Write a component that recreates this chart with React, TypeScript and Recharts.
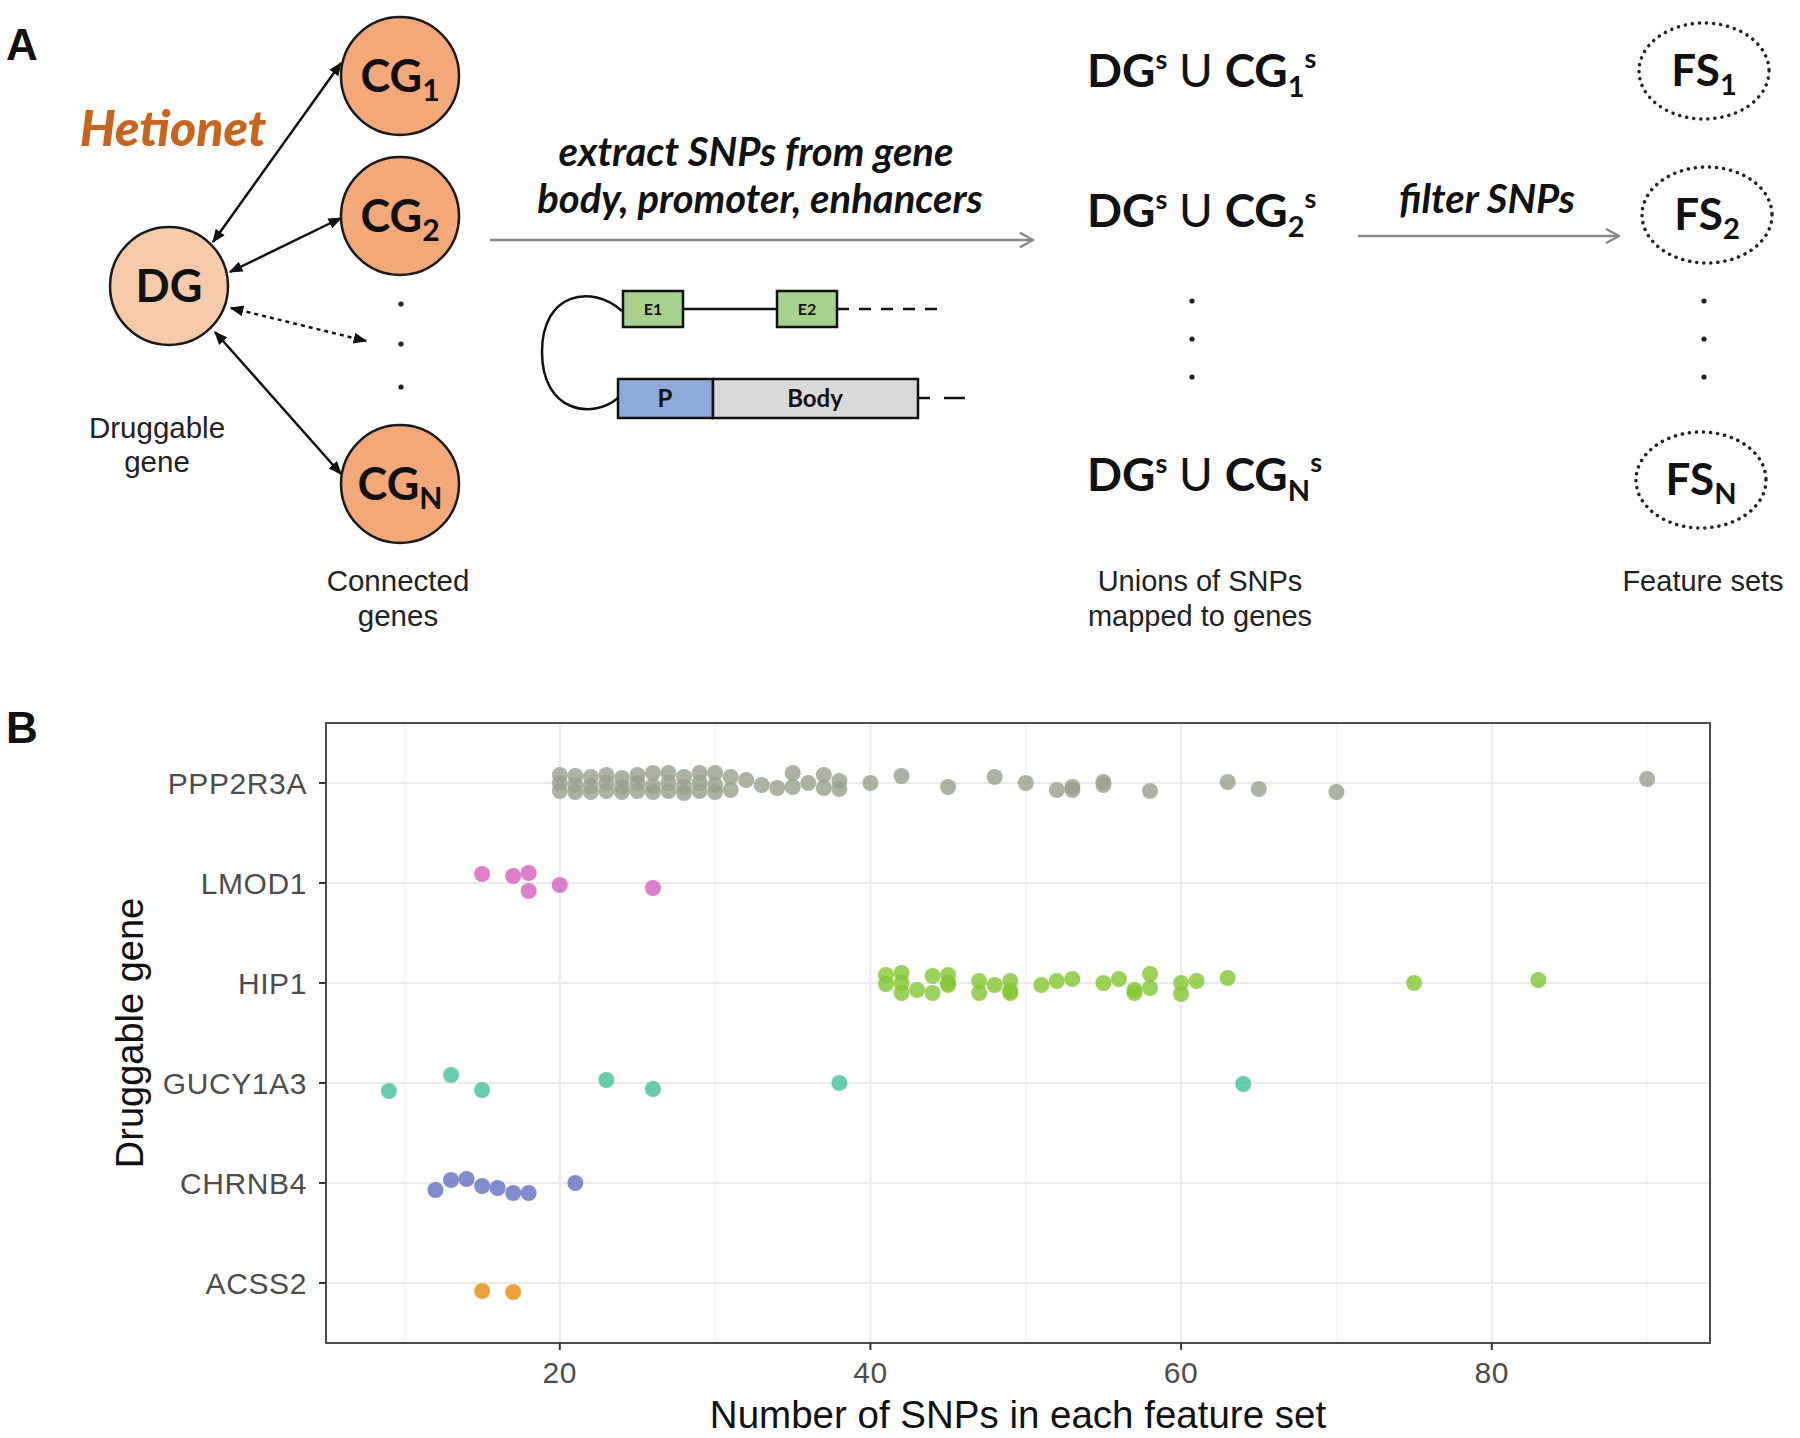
import React from 'react';
import { ScatterChart, Scatter, XAxis, YAxis, CartesianGrid, ReferenceArea } from 'recharts';

// genes listed bottom -> top (y = index + 1)
const GENES = ['ACSS2', 'CHRNB4', 'GUCY1A3', 'HIP1', 'LMOD1', 'PPP2R3A'];
const GENE_TICKS = [1, 2, 3, 4, 5, 6];
const X_TICKS = [20, 40, 60, 80];
const X_MINOR = [10, 30, 50, 70, 90];

// SNP counts per feature set, with the vertical jitter (+ = down)
const PPP2R3A_SNPS = [
  20, 20, 20, 21, 21, 21, 22, 22, 22, 23, 23, 23, 24, 24, 24, 25, 25, 25,
  26, 26, 26, 27, 27, 27, 28, 28, 28, 29, 29, 29, 30, 30, 30,
  31, 31, 32, 33, 34, 35, 35, 36, 37, 37, 38, 38, 40, 42, 45, 48, 50, 52, 53, 53, 55, 55, 58, 63, 65, 70, 90
];
const PPP2R3A_JITTER = [
  -0.08, 0.0, 0.08, -0.07, 0.02, 0.09, -0.06, 0.03, 0.09, -0.08, 0.0, 0.08, -0.05, 0.04, 0.09, -0.08, 0.0, 0.08,
  -0.1, 0.03, 0.09, -0.1, 0.0, 0.08, -0.06, 0.04, 0.1, -0.1, 0.0, 0.08, -0.1, 0.02, 0.09,
  -0.06, 0.07, -0.03, 0.02, 0.05, -0.1, 0.04, 0.0, -0.08, 0.05, -0.02, 0.06, 0.0, -0.07, 0.04, -0.06, 0.0, 0.07, 0.07, 0.04, -0.01, 0.02, 0.08, -0.01, 0.06, 0.09, -0.04
];

const LMOD1_SNPS = [15, 17, 18, 18, 20, 26];
const LMOD1_JITTER = [-0.09, -0.07, -0.1, 0.08, 0.02, 0.05];

const HIP1_SNPS = [
  41, 41, 42, 42, 42, 43, 44, 44, 45, 45, 45, 47, 47, 48, 49, 49, 49,
  51, 52, 53, 55, 56, 57, 57, 58, 58, 60, 60, 61, 63, 75, 83
];
const HIP1_JITTER = [
  -0.08, 0.01, -0.1, 0.0, 0.1, 0.07, -0.07, 0.1, -0.08, 0.0, 0.02, -0.02, 0.1, 0.02, -0.02, 0.08, 0.1,
  0.02, -0.02, -0.04, 0.0, -0.04, 0.07, 0.1, -0.09, 0.05, 0.0, 0.11, -0.02, -0.05, 0.0, -0.03
];

const GUCY1A3_SNPS = [9, 13, 15, 23, 26, 38, 64];
const GUCY1A3_JITTER = [0.08, -0.08, 0.07, -0.03, 0.06, 0.0, 0.01];

const CHRNB4_SNPS = [12, 13, 14, 15, 16, 17, 18, 21];
const CHRNB4_JITTER = [0.07, -0.03, -0.04, 0.03, 0.05, 0.1, 0.1, 0.0];

const ACSS2_SNPS = [15, 17];
const ACSS2_JITTER = [0.08, 0.09];

const SERIES = [
  { gene: 'PPP2R3A', snps: PPP2R3A_SNPS, jitter: PPP2R3A_JITTER, color: '#98a08b' },
  { gene: 'LMOD1', snps: LMOD1_SNPS, jitter: LMOD1_JITTER, color: '#d85ec2' },
  { gene: 'HIP1', snps: HIP1_SNPS, jitter: HIP1_JITTER, color: '#82c731' },
  { gene: 'GUCY1A3', snps: GUCY1A3_SNPS, jitter: GUCY1A3_JITTER, color: '#42bf9a' },
  { gene: 'CHRNB4', snps: CHRNB4_SNPS, jitter: CHRNB4_JITTER, color: '#646ec3' },
  { gene: 'ACSS2', snps: ACSS2_SNPS, jitter: ACSS2_JITTER, color: '#ec8b09' }
];

const toPoints = (gene: string, snps: number[], jitter: number[]) =>
  snps.map((x, i) => ({ x, y: GENES.indexOf(gene) + 1 - jitter[i] }));

const SANS = '"Liberation Sans", Arial, Helvetica, sans-serif';
const CAL = 'Lato, "Open Sans", sans-serif';

function Node({ cx, cy, label, sub, fill }: { cx: number; cy: number; label: string; sub?: string; fill: string }) {
  return (
    <g>
      <circle cx={cx} cy={cy} r={59} fill={fill} stroke="#1a1a1a" strokeWidth={2.5} />
      <text x={cx} y={cy + 16} textAnchor="middle" fontFamily={CAL} fontWeight={700} fontSize={45} fill="#111">
        {label}
        {sub && <tspan fontSize={30} dy={9}>{sub}</tspan>}
      </text>
    </g>
  );
}

function Union({ y, sub }: { y: number; sub: string }) {
  return (
    <text x={1087} y={y} fontFamily={CAL} fontWeight={700} fontSize={46} fill="#111">
      DG<tspan fontSize={27} dy={-18}>s</tspan>
      <tspan dy={18} fontWeight={400}> U </tspan>
      <tspan>CG</tspan>
      <tspan fontSize={29} dy={10}>{sub}</tspan>
      <tspan fontSize={27} dy={-29}>s</tspan>
    </text>
  );
}

function FeatureSet({ cx, cy, sub }: { cx: number; cy: number; sub: string }) {
  return (
    <g>
      <ellipse cx={cx} cy={cy} rx={65} ry={48} fill="none" stroke="#222" strokeWidth={3.5}
        strokeDasharray="0.1 7" strokeLinecap="round" />
      <text x={cx} y={cy + 15} textAnchor="middle" fontFamily={CAL} fontWeight={700} fontSize={44} fill="#111">
        FS<tspan fontSize={29} dy={9}>{sub}</tspan>
      </text>
    </g>
  );
}

function VDots({ x, ys }: { x: number; ys: number[] }) {
  return <g>{ys.map((y) => <circle key={y} cx={x} cy={y} r={2.6} fill="#222" />)}</g>;
}

function PanelA() {
  return (
    <svg width={1800} height={1438} style={{ position: 'absolute', left: 0, top: 0, pointerEvents: 'none' }}>
      <defs>
        <marker id="blk" viewBox="0 0 10 10" refX="9" refY="5" markerWidth="5.5" markerHeight="5.5" orient="auto-start-reverse">
          <path d="M0,1 L10,5 L0,9 z" fill="#111" />
        </marker>
        <marker id="gry" viewBox="0 0 12 12" refX="11" refY="6" markerWidth="7" markerHeight="7" orient="auto">
          <path d="M2,1 L11,6 L2,11" fill="none" stroke="#888" strokeWidth="1.6" />
        </marker>
      </defs>

      <text x={6} y={60} fontFamily={SANS} fontWeight={700} fontSize={44} fill="#111">A</text>
      <text x={6} y={743} fontFamily={SANS} fontWeight={700} fontSize={44} fill="#111">B</text>

      <text x={173} y={146} textAnchor="middle" fontFamily={CAL} fontWeight={900} fontStyle="italic" fontSize={50} fill="#c8641e">Hetionet</text>

      {/* network arrows */}
      <line x1={213} y1={242} x2={341} y2={63} stroke="#111" strokeWidth={2.5} markerStart="url(#blk)" markerEnd="url(#blk)" />
      <line x1={230} y1={272} x2={341} y2={218} stroke="#111" strokeWidth={2.5} markerStart="url(#blk)" markerEnd="url(#blk)" />
      <line x1={231} y1={308} x2={366} y2={341} stroke="#111" strokeWidth={2.5} strokeDasharray="4 4" markerStart="url(#blk)" markerEnd="url(#blk)" />
      <line x1={215} y1={332} x2={341} y2={474} stroke="#111" strokeWidth={2.5} markerStart="url(#blk)" markerEnd="url(#blk)" />

      <Node cx={169} cy={286} label="DG" fill="#f7caaa" />
      <Node cx={400} cy={76} label="CG" sub="1" fill="#f2a878" />
      <Node cx={400} cy={216} label="CG" sub="2" fill="#f2a878" />
      <Node cx={400} cy={484} label="CG" sub="N" fill="#f2a878" />
      <VDots x={401} ys={[304, 344, 387]} />

      <text textAnchor="middle" fontFamily={SANS} fontSize={29.5} fill="#222">
        <tspan x={157} y={438}>Druggable</tspan>
        <tspan x={157} y={472}>gene</tspan>
      </text>
      <text textAnchor="middle" fontFamily={SANS} fontSize={29.5} fill="#222">
        <tspan x={398} y={591}>Connected</tspan>
        <tspan x={398} y={626}>genes</tspan>
      </text>

      {/* SNP extraction */}
      <text textAnchor="middle" fontFamily={CAL} fontWeight={700} fontStyle="italic" fontSize={40} fill="#111">
        <tspan x={756} y={166}>extract SNPs from gene</tspan>
        <tspan x={760} y={213}>body, promoter, enhancers</tspan>
      </text>
      <line x1={490} y1={240} x2={1033} y2={240} stroke="#888" strokeWidth={2.5} markerEnd="url(#gry)" />

      <path d="M622,311 C592,284 542,292 542,352 C542,412 592,420 618,398" fill="none" stroke="#111" strokeWidth={2.5} />
      <line x1={683} y1={309} x2={777} y2={309} stroke="#111" strokeWidth={2.5} />
      <rect x={623} y={291} width={60} height={36} fill="#a9d18e" stroke="#111" strokeWidth={2.5} />
      <text x={653} y={315} textAnchor="middle" fontFamily={CAL} fontWeight={700} fontSize={16} fill="#111">E1</text>
      <rect x={777} y={291} width={60} height={36} fill="#a9d18e" stroke="#111" strokeWidth={2.5} />
      <text x={807} y={315} textAnchor="middle" fontFamily={CAL} fontWeight={700} fontSize={16} fill="#111">E2</text>
      <line x1={837} y1={309} x2={940} y2={309} stroke="#111" strokeWidth={2.5} strokeDasharray="12 10" />

      <rect x={618} y={379} width={95} height={39} fill="#8eaadb" stroke="#111" strokeWidth={2.5} />
      <text x={665} y={407} textAnchor="middle" fontFamily={CAL} fontWeight={700} fontSize={24} fill="#111">P</text>
      <rect x={713} y={379} width={205} height={39} fill="#d9d9d9" stroke="#111" strokeWidth={2.5} />
      <text x={815} y={407} textAnchor="middle" fontFamily={CAL} fontWeight={700} fontSize={24} fill="#111">Body</text>
      <line x1={918} y1={398} x2={930} y2={398} stroke="#111" strokeWidth={2.5} />
      <line x1={944} y1={398} x2={965} y2={398} stroke="#111" strokeWidth={2.5} />

      {/* unions */}
      <Union y={87} sub="1" />
      <Union y={227} sub="2" />
      <Union y={491} sub="N" />
      <VDots x={1192} ys={[301, 339, 377]} />
      <text textAnchor="middle" fontFamily={SANS} fontSize={29} fill="#222">
        <tspan x={1200} y={591}>Unions of SNPs</tspan>
        <tspan x={1200} y={626}>mapped to genes</tspan>
      </text>

      <text x={1487} y={213} textAnchor="middle" fontFamily={CAL} fontWeight={700} fontStyle="italic" fontSize={40} fill="#111">filter SNPs</text>
      <line x1={1358} y1={236} x2={1619} y2={236} stroke="#888" strokeWidth={2.5} markerEnd="url(#gry)" />

      <FeatureSet cx={1704} cy={71} sub="1" />
      <FeatureSet cx={1707} cy={215} sub="2" />
      <FeatureSet cx={1701} cy={480} sub="N" />
      <VDots x={1704} ys={[301, 339, 377]} />
      <text x={1703} y={591} textAnchor="middle" fontFamily={SANS} fontSize={29} fill="#222">Feature sets</text>

      {/* panel B axis titles */}
      <text transform="translate(143,1033) rotate(-90)" textAnchor="middle" fontFamily={SANS} fontSize={38} fill="#111">Druggable gene</text>
      <text x={1018} y={1428} textAnchor="middle" fontFamily={SANS} fontSize={38.5} fill="#111">Number of SNPs in each feature set</text>
    </svg>
  );
}

export default function App() {
  const tickStyle = { fill: '#4d4d4d', fontSize: 30, fontFamily: SANS, letterSpacing: 0.6 };
  return (
    <div style={{ position: 'absolute', left: 0, top: 0, width: 1800, height: 1438, background: '#fff' }}>
      <ScatterChart width={1800} height={1438} margin={{ top: 723, right: 90, bottom: 0, left: 26 }}>
        <CartesianGrid horizontal={false} verticalValues={X_MINOR} stroke="#f2f2f2" strokeWidth={1.2} />
        <CartesianGrid verticalValues={X_TICKS} horizontalValues={GENE_TICKS} stroke="#ebebeb" strokeWidth={2.2} />
        <XAxis
          dataKey="x"
          type="number"
          domain={[4.95, 94.05]}
          ticks={X_TICKS}
          allowDataOverflow
          height={95}
          axisLine={false}
          tickSize={7}
          tickLine={{ stroke: '#333', strokeWidth: 2 }}
          tickMargin={12}
          tick={tickStyle}
        />
        <YAxis
          dataKey="y"
          type="number"
          domain={[0.4, 6.6]}
          ticks={GENE_TICKS}
          allowDataOverflow
          width={300}
          axisLine={false}
          tickSize={7}
          tickLine={{ stroke: '#333', strokeWidth: 2 }}
          tickMargin={12}
          tick={tickStyle}
          tickFormatter={(v: number) => GENES[v - 1]}
        />
        <ReferenceArea x1={4.95} x2={94.05} y1={0.4} y2={6.6} fill="none" stroke="#4d4d4d" strokeWidth={2} ifOverflow="visible" />
        {SERIES.map((s) => (
          <Scatter
            key={s.gene}
            name={s.gene}
            data={toPoints(s.gene, s.snps, s.jitter)}
            isAnimationActive={false}
            shape={(p: any) => <circle cx={p.cx} cy={p.cy} r={8} fill={s.color} fillOpacity={0.8} />}
          />
        ))}
      </ScatterChart>
      <PanelA />
    </div>
  );
}
